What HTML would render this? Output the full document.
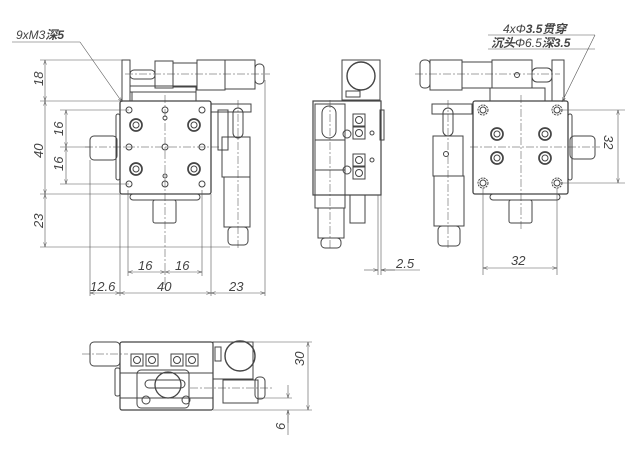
<!DOCTYPE html>
<html><head><meta charset="utf-8"><style>body{margin:0;background:#fff}svg{display:block}text{font-family:"Liberation Sans","Noto Sans CJK SC",sans-serif;font-style:italic;fill:#444}</style></head><body>
<svg width="630" height="453" viewBox="0 0 630 453" xmlns="http://www.w3.org/2000/svg">
<defs>
<marker id="a" viewBox="0 0 10 6" refX="10" refY="3" markerWidth="8" markerHeight="5" orient="auto-start-reverse"><path d="M0,0L10,3L0,6" fill="none" stroke="#555" stroke-width="1"/></marker>
</defs>
<g fill="none" stroke="#444" stroke-width="1">
<!-- FRONT VIEW -->
<rect x="122" y="60" width="8" height="41"/>
<rect x="130" y="86" width="66" height="6"/>
<rect x="132" y="92" width="64" height="9"/>
<rect x="130" y="70" width="25" height="9" rx="4"/>
<rect x="155" y="61" width="18" height="27"/>
<rect x="173" y="63" width="24" height="24"/>
<rect x="197" y="60" width="28" height="30"/>
<rect x="225" y="60" width="30" height="29"/>
<rect x="255" y="64" width="9" height="20" rx="4"/>
<rect x="211" y="104" width="40" height="8"/>
<rect x="120" y="101" width="91" height="93" rx="2" stroke-width="1.3"/>
<rect x="116" y="114" width="4" height="66" rx="2"/>
<rect x="90" y="136" width="27" height="24" rx="4"/>
<rect x="130" y="194" width="70" height="6" rx="3"/>
<rect x="153" y="200" width="23" height="23" rx="2"/>
<rect x="218" y="110" width="10" height="40"/>
<rect x="233" y="108" width="10" height="30" rx="5"/>
<rect x="222" y="137" width="28" height="40"/>
<rect x="224" y="177" width="26" height="50"/>
<rect x="228" y="227" width="20" height="18" rx="4"/>
<g>
<circle cx="129" cy="110" r="3"/><circle cx="165" cy="110" r="3"/><circle cx="202" cy="110" r="3"/>
<circle cx="129" cy="147" r="3"/><circle cx="165" cy="147" r="3"/><circle cx="202" cy="147" r="3"/>
<circle cx="129" cy="184" r="3"/><circle cx="165" cy="184" r="3"/><circle cx="202" cy="184" r="3"/>
<circle cx="165" cy="118" r="2"/><circle cx="165" cy="176" r="2"/>
<circle cx="136" cy="125" r="6" stroke-width="1.7"/><circle cx="136" cy="125" r="3"/>
<circle cx="194" cy="125" r="6" stroke-width="1.7"/><circle cx="194" cy="125" r="3"/>
<circle cx="136" cy="169" r="6" stroke-width="1.7"/><circle cx="136" cy="169" r="3"/>
<circle cx="194" cy="169" r="6" stroke-width="1.7"/><circle cx="194" cy="169" r="3"/>
</g>
<g stroke-dasharray="8,2,2,2" stroke-width="0.5">
<line x1="125" y1="74" x2="270" y2="74"/><line x1="85" y1="147" x2="220" y2="147"/>
<line x1="165" y1="95" x2="165" y2="290"/><line x1="238" y1="100" x2="238" y2="250"/>
</g>
<g stroke-width="0.6" stroke="#555">
<line x1="40" y1="60" x2="122" y2="60"/><line x1="40" y1="101" x2="120" y2="101"/><line x1="40" y1="194" x2="120" y2="194"/><line x1="40" y1="247" x2="230" y2="247"/>
<line x1="60" y1="110" x2="129" y2="110"/><line x1="60" y1="147" x2="90" y2="147"/><line x1="60" y1="184" x2="129" y2="184"/>
<line x1="90" y1="160" x2="90" y2="296"/><line x1="120" y1="194" x2="120" y2="296"/><line x1="211" y1="194" x2="211" y2="296"/><line x1="265" y1="80" x2="265" y2="296"/>
<line x1="128" y1="190" x2="128" y2="276"/><line x1="202" y1="190" x2="202" y2="276"/>
<line x1="45" y1="60" x2="45" y2="101" marker-start="url(#a)" marker-end="url(#a)"/>
<line x1="45" y1="101" x2="45" y2="194" marker-start="url(#a)" marker-end="url(#a)"/>
<line x1="45" y1="194" x2="45" y2="247" marker-start="url(#a)" marker-end="url(#a)"/>
<line x1="66" y1="110" x2="66" y2="147" marker-start="url(#a)" marker-end="url(#a)"/>
<line x1="66" y1="147" x2="66" y2="184" marker-start="url(#a)" marker-end="url(#a)"/>
<line x1="128" y1="272" x2="165" y2="272" marker-start="url(#a)" marker-end="url(#a)"/>
<line x1="165" y1="272" x2="202" y2="272" marker-start="url(#a)" marker-end="url(#a)"/>
<line x1="90" y1="293" x2="120" y2="293" marker-start="url(#a)" marker-end="url(#a)"/>
<line x1="120" y1="293" x2="211" y2="293" marker-start="url(#a)" marker-end="url(#a)"/>
<line x1="211" y1="293" x2="265" y2="293" marker-start="url(#a)" marker-end="url(#a)"/>
<line x1="12" y1="42" x2="80" y2="42"/><line x1="80" y1="42" x2="122" y2="102" marker-end="url(#a)"/>
</g>
<!-- SIDE VIEW -->
<rect x="342" y="60" width="38" height="40"/>
<circle cx="361" cy="76" r="14" stroke-width="1.4"/><rect x="346" y="91" width="14" height="6"/>
<rect x="313" y="101" width="68" height="94" stroke-width="1.2"/>
<rect x="315" y="104" width="30" height="36"/>
<rect x="322" y="106" width="14" height="32" rx="7"/>
<rect x="315" y="140" width="30" height="30"/>
<rect x="315" y="170" width="30" height="38"/>
<rect x="318" y="208" width="26" height="30"/>
<rect x="321" y="238" width="20" height="10" rx="4"/>
<rect x="350" y="195" width="15" height="28"/>
<rect x="380" y="110" width="4" height="30"/>
<g>
<rect x="353" y="114" width="12" height="12"/><circle cx="359" cy="120" r="3.5"/>
<rect x="353" y="127" width="12" height="12"/><circle cx="359" cy="133" r="3.5"/>
<rect x="353" y="154" width="12" height="12"/><circle cx="359" cy="160" r="3.5"/>
<rect x="353" y="167" width="12" height="12"/><circle cx="359" cy="173" r="3.5"/>
<circle cx="347" cy="134" r="4"/><circle cx="347" cy="170" r="4"/>
<circle cx="372" cy="133" r="2"/><circle cx="372" cy="160" r="2"/>
</g>
<g stroke-dasharray="8,2,2,2" stroke-width="0.5"><line x1="330" y1="100" x2="330" y2="250"/></g>
<g stroke-width="0.6" stroke="#555">
<line x1="378" y1="195" x2="378" y2="275"/><line x1="381" y1="195" x2="381" y2="275"/>
<line x1="364" y1="270" x2="378" y2="270" marker-end="url(#a)"/>
<line x1="381" y1="270" x2="420" y2="270"/>
<line x1="381" y1="270" x2="395" y2="270" marker-start="url(#a)"/>
</g>
<!-- RIGHT VIEW -->
<rect x="420" y="60" width="10" height="28" rx="4"/>
<rect x="430" y="60" width="32" height="30"/>
<rect x="462" y="62" width="30" height="26"/>
<rect x="492" y="60" width="40" height="28"/>
<rect x="532" y="68" width="20" height="14" rx="5"/>
<rect x="552" y="60" width="12" height="41"/>
<rect x="490" y="88" width="55" height="13"/>
<circle cx="517" cy="75" r="2.5"/>
<rect x="432" y="104" width="40" height="10"/>
<rect x="443" y="108" width="10" height="28" rx="5"/>
<rect x="433" y="136" width="30" height="40"/>
<rect x="434" y="176" width="30" height="50"/>
<rect x="438" y="226" width="22" height="20" rx="4"/>
<circle cx="446" cy="154" r="2.5"/>
<rect x="473" y="101" width="95" height="93" rx="2" stroke-width="1.3"/>
<rect x="568" y="114" width="4" height="66" rx="2"/>
<rect x="570" y="136" width="25" height="23" rx="4"/>
<rect x="490" y="194" width="70" height="6" rx="3"/>
<rect x="509" y="200" width="23" height="23" rx="2"/>
<g>
<circle cx="483" cy="110" r="5" stroke-dasharray="2,1"/><circle cx="483" cy="110" r="3"/>
<circle cx="557" cy="110" r="5" stroke-dasharray="2,1"/><circle cx="557" cy="110" r="3"/>
<circle cx="483" cy="183" r="5" stroke-dasharray="2,1"/><circle cx="483" cy="183" r="3"/>
<circle cx="557" cy="183" r="5" stroke-dasharray="2,1"/><circle cx="557" cy="183" r="3"/>
<circle cx="497" cy="134" r="6" stroke-width="1.7"/><circle cx="497" cy="134" r="3"/>
<circle cx="545" cy="134" r="6" stroke-width="1.7"/><circle cx="545" cy="134" r="3"/>
<circle cx="497" cy="158" r="6" stroke-width="1.7"/><circle cx="497" cy="158" r="3"/>
<circle cx="545" cy="158" r="6" stroke-width="1.7"/><circle cx="545" cy="158" r="3"/>
</g>
<g stroke-dasharray="8,2,2,2" stroke-width="0.5">
<line x1="415" y1="74" x2="560" y2="74"/><line x1="470" y1="147" x2="600" y2="147"/>
<line x1="521" y1="95" x2="521" y2="230"/><line x1="448" y1="100" x2="448" y2="250"/>
</g>
<g stroke-width="0.6" stroke="#555">
<line x1="560" y1="110" x2="625" y2="110"/><line x1="560" y1="183" x2="625" y2="183"/>
<line x1="618" y1="110" x2="618" y2="183" marker-start="url(#a)" marker-end="url(#a)"/>
<line x1="483" y1="188" x2="483" y2="275"/><line x1="557" y1="188" x2="557" y2="275"/>
<line x1="483" y1="268" x2="557" y2="268" marker-start="url(#a)" marker-end="url(#a)"/>
<line x1="488" y1="35" x2="595" y2="35"/><line x1="488" y1="49" x2="595" y2="49"/>
<line x1="595" y1="35" x2="562" y2="102" marker-end="url(#a)"/>
</g>
<!-- BOTTOM VIEW -->
<rect x="90" y="342" width="30" height="24" rx="4"/>
<rect x="120" y="342" width="93" height="68" rx="2" stroke-width="1.2"/>
<rect x="115" y="368" width="5" height="28" rx="2"/>
<rect x="131" y="354" width="12" height="12"/><circle cx="137" cy="360" r="3.5"/>
<rect x="146" y="354" width="12" height="12"/><circle cx="152" cy="360" r="3.5"/>
<rect x="171" y="354" width="12" height="12"/><circle cx="177" cy="360" r="3.5"/>
<rect x="186" y="354" width="12" height="12"/><circle cx="192" cy="360" r="3.5"/>
<line x1="120" y1="373" x2="213" y2="373"/><line x1="120" y1="398" x2="213" y2="398"/>
<rect x="137" y="370" width="52" height="38" rx="4"/>
<rect x="145" y="380" width="40" height="8" rx="4"/>
<circle cx="168" cy="385" r="13" stroke-width="1.3"/>
<circle cx="146" cy="400" r="4"/><circle cx="186" cy="400" r="4"/>
<rect x="213" y="342" width="40" height="37"/>
<circle cx="240" cy="356" r="15" stroke-width="1.4"/>
<rect x="215" y="347" width="6" height="14"/>
<rect x="223" y="380" width="35" height="23"/>
<rect x="255" y="377" width="10" height="22" rx="4"/>
<g stroke-dasharray="8,2,2,2" stroke-width="0.5">
<line x1="82" y1="354" x2="128" y2="354"/><line x1="190" y1="388" x2="272" y2="388"/>
</g>
<g stroke-width="0.6" stroke="#555">
<line x1="213" y1="342" x2="312" y2="342"/><line x1="213" y1="410" x2="312" y2="410"/><line x1="258" y1="398" x2="292" y2="398"/>
<line x1="308" y1="342" x2="308" y2="410" marker-start="url(#a)" marker-end="url(#a)"/>
<line x1="288" y1="385" x2="288" y2="398" marker-end="url(#a)"/>
<line x1="288" y1="423" x2="288" y2="410" marker-end="url(#a)"/>
<line x1="288" y1="410" x2="288" y2="435"/>
</g>
</g>
<g font-size="13">
<text x="16" y="39" font-size="12">9xM3<tspan font-weight="bold">深5</tspan></text>
<text transform="translate(43,86) rotate(-90)">18</text>
<text transform="translate(43,158) rotate(-90)">40</text>
<text transform="translate(43,228) rotate(-90)">23</text>
<text transform="translate(63,136) rotate(-90)">16</text>
<text transform="translate(63,171) rotate(-90)">16</text>
<text x="138" y="270">16</text><text x="175" y="270">16</text>
<text x="90" y="291">12.6</text><text x="157" y="291">40</text><text x="229" y="291">23</text>
<text x="396" y="268">2.5</text>
<text x="511" y="265">32</text>
<text transform="translate(604,135) rotate(90)">32</text>
<text x="503" y="33" font-size="12">4x<tspan>Φ</tspan><tspan font-weight="bold">3.5贯穿</tspan></text>
<text x="491" y="47" font-size="12" font-weight="bold">沉头<tspan font-weight="normal">Φ6.5</tspan>深3.5</text>
<text transform="translate(304,366) rotate(-90)">30</text>
<text transform="translate(285,430) rotate(-90)">6</text>
</g>
</svg>
</body></html>
